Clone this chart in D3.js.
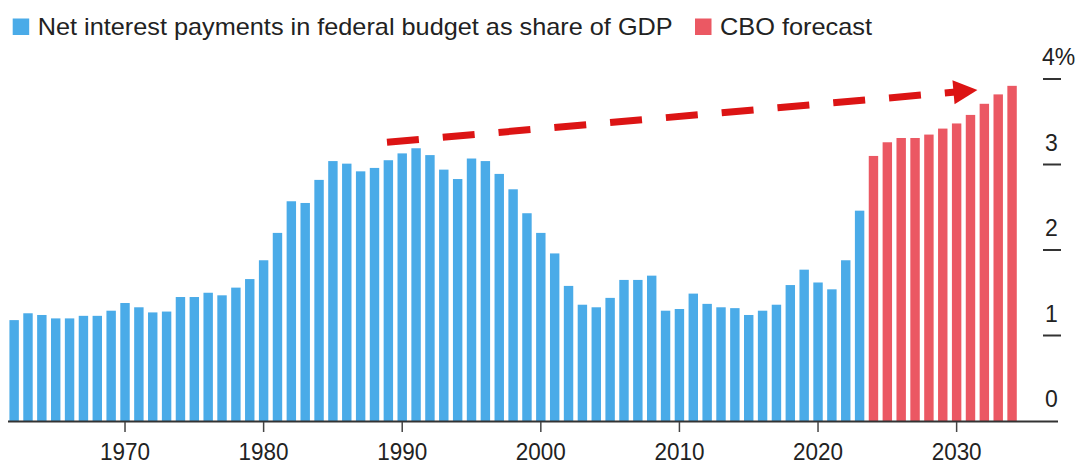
<!DOCTYPE html>
<html>
<head>
<meta charset="utf-8">
<script src="https://cdn.jsdelivr.net/npm/d3@7"></script>
<style>
  html, body { margin: 0; padding: 0; background: #fff; }
  svg { display: block; font-family: "Liberation Sans", Arial, Helvetica, sans-serif; }
</style>
</head>
<body>
<svg id="chart" width="1083" height="467"></svg>
<script>
// Net interest payments, % of GDP (fiscal years 1962–2023)
const actualYears = d3.range(1962, 2024);
const actualValues = [
  1.18, 1.26, 1.24, 1.20, 1.20, 1.23, 1.23, 1.29, 1.38, 1.33,
  1.27, 1.28, 1.45, 1.45, 1.50, 1.47, 1.56, 1.66, 1.88, 2.20,
  2.57, 2.55, 2.82, 3.04, 3.01, 2.92, 2.96, 3.05, 3.13, 3.19,
  3.11, 2.94, 2.83, 3.07, 3.04, 2.89, 2.71, 2.43, 2.20, 1.96,
  1.58, 1.36, 1.33, 1.44, 1.65, 1.65, 1.70, 1.29, 1.31, 1.49,
  1.37, 1.33, 1.32, 1.24, 1.29, 1.36, 1.59, 1.77, 1.62, 1.54,
  1.88, 2.46
];

// CBO projection, % of GDP (2024–2034)
const forecastYears = d3.range(2024, 2035);
const forecastValues = [3.10, 3.26, 3.31, 3.31, 3.35, 3.42, 3.48, 3.58, 3.71, 3.82, 3.92];

const xTickYears = [1970, 1980, 1990, 2000, 2010, 2020, 2030];
const yTicks = [0, 1, 2, 3, 4];
const legendLabels = ["Net interest payments in federal budget as share of GDP", "CBO forecast"];

// Trend arrow drawn over the bars: [year, % of GDP]
const arrowFrom = [1988.9, 3.26];
const arrowTo = [2031.5, 3.87];

const colors = { actual: "#4aabe8", forecast: "#eb5863", arrow: "#dc1414", text: "#222", axis: "#333" };

const svg = d3.select("#chart");

const allYears = actualYears.concat(forecastYears);
const rows = actualYears.map((y, i) => ({ year: y, value: actualValues[i], kind: "actual" }))
  .concat(forecastYears.map((y, i) => ({ year: y, value: forecastValues[i], kind: "forecast" })));

const x = d3.scaleBand()
  .domain(allYears)
  .range([7.2, 1019])
  .paddingInner(0.32)
  .paddingOuter(0.16);

// continuous year -> band centre, for the annotation
const xYear = d3.scaleLinear()
  .domain([allYears[0], allYears[allYears.length - 1]])
  .range([x(allYears[0]) + x.bandwidth() / 2, x(allYears[allYears.length - 1]) + x.bandwidth() / 2]);

const y = d3.scaleLinear().domain([0, 4]).range([421, 79]);

// bars
svg.append("g")
  .selectAll("rect")
  .data(rows)
  .join("rect")
  .attr("x", d => x(d.year))
  .attr("width", x.bandwidth())
  .attr("y", d => y(d.value))
  .attr("height", d => y(0) - y(d.value))
  .attr("fill", d => d.kind === "actual" ? colors.actual : colors.forecast);

// baseline
svg.append("line")
  .attr("x1", 8).attr("x2", 1058)
  .attr("y1", y(0) + 0.5).attr("y2", y(0) + 0.5)
  .attr("stroke", colors.axis).attr("stroke-width", 2);

// x axis
const xAxis = d3.axisBottom(x)
  .tickValues(xTickYears)
  .tickSize(10)
  .tickPadding(12);
const gx = svg.append("g")
  .attr("transform", `translate(0,${y(0) + 1})`)
  .call(xAxis);
gx.select(".domain").remove();
gx.selectAll(".tick line").attr("stroke", "#444").attr("stroke-width", 1.5);
gx.selectAll(".tick text")
  .attr("fill", colors.text)
  .attr("font-size", 23)
  .attr("font-family", "Liberation Sans, Arial, sans-serif")
  .attr("dy", "0.71em")
  .attr("textLength", 50)
  .attr("lengthAdjust", "spacingAndGlyphs");

// y axis on the right: short dash at each value, label above it
const gy = svg.append("g");
const yt = gy.selectAll("g").data(yTicks).join("g")
  .attr("transform", d => `translate(0,${y(d)})`);
yt.filter(d => d > 0).append("line")
  .attr("x1", 1043).attr("x2", 1061)
  .attr("stroke", colors.axis).attr("stroke-width", 2);
yt.append("text")
  .attr("x", d => d === 4 ? 1042 : 1045)
  .attr("y", -14)
  .attr("fill", colors.text)
  .attr("font-size", 23)
  .text(d => d === 4 ? d + "%" : d);

// trend arrow
const ax0 = xYear(arrowFrom[0]), ay0 = y(arrowFrom[1]);
const ax1 = xYear(arrowTo[0]), ay1 = y(arrowTo[1]);
const ang = Math.atan2(ay1 - ay0, ax1 - ax0);
const headLen = 24, headHalf = 12;
const bx = ax1 - headLen * Math.cos(ang), by = ay1 - headLen * Math.sin(ang);
svg.append("line")
  .attr("x1", ax0).attr("y1", ay0)
  .attr("x2", bx + 2 * Math.cos(ang)).attr("y2", by + 2 * Math.sin(ang))
  .attr("stroke", colors.arrow)
  .attr("stroke-width", 7)
  .attr("stroke-dasharray", "32 24");
svg.append("path")
  .attr("d", d3.line()([
    [ax1, ay1],
    [bx - headHalf * Math.sin(ang), by + headHalf * Math.cos(ang)],
    [bx + headHalf * Math.sin(ang), by - headHalf * Math.cos(ang)]
  ]) + "Z")
  .attr("fill", colors.arrow);

// legend
const legend = svg.append("g");
const legendItems = [
  { label: legendLabels[0], color: colors.actual, x: 12.7, w: 635 },
  { label: legendLabels[1], color: colors.forecast, x: 695, w: 152 }
];
legendItems.forEach(it => {
  legend.append("rect")
    .attr("x", it.x).attr("y", 18.5)
    .attr("width", 16.5).attr("height", 16.5)
    .attr("fill", it.color);
  legend.append("text")
    .attr("x", it.x + 25).attr("y", 35)
    .attr("fill", colors.text)
    .attr("font-size", 24)
    .attr("textLength", it.w)
    .attr("lengthAdjust", "spacingAndGlyphs")
    .text(it.label);
});
</script>
</body>
</html>
